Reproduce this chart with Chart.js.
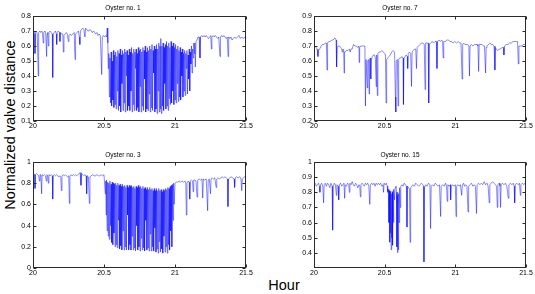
<!DOCTYPE html>
<html><head><meta charset="utf-8">
<script src="https://cdn.jsdelivr.net/npm/chart.js@4.4.0/dist/chart.umd.min.js"></script>
<style>
html,body{margin:0;padding:0;background:#fff;width:535px;height:294px;overflow:hidden;position:relative;font-family:"Liberation Sans",Arial,sans-serif;}
canvas{position:absolute;}
.lbl{position:absolute;font-size:14.5px;color:#000;white-space:nowrap;line-height:1;}
#ylab{left:10px;top:125px;transform:translate(-50%,-50%) rotate(-90deg);}
#xlab{left:284px;top:285px;transform:translate(-50%,-50%);}
</style></head><body>
<div id="ylab" class="lbl">Normalized valve distance</div>
<div id="xlab" class="lbl">Hour</div>
<script>
const xTicks = [20, 20.5, 21, 21.5];
const xTickLabels = ['20', '20.5', '21', '21.5'];
const titles = ['Oyster no. 1', 'Oyster no. 7', 'Oyster no. 3', 'Oyster no. 15'];

const yTicks1 = [0.1, 0.2, 0.3, 0.4, 0.5, 0.6, 0.7, 0.8];
const yLabels1 = ['0.1', '0.2', '0.3', '0.4', '0.5', '0.6', '0.7', '0.8'];
const yTicks7 = [0.2, 0.3, 0.4, 0.5, 0.6, 0.7, 0.8, 0.9];
const yLabels7 = ['0.2', '0.3', '0.4', '0.5', '0.6', '0.7', '0.8', '0.9'];
const yTicks3 = [0, 0.2, 0.4, 0.6, 0.8, 1];
const yLabels3 = ['0', '0.2', '0.4', '0.6', '0.8', '1'];
const yTicks15 = [0.4, 0.5, 0.6, 0.7, 0.8, 0.9, 1];
const yLabels15 = ['0.4', '0.5', '0.6', '0.7', '0.8', '0.9', '1'];

// [hour, normalized valve distance]
const oyster1 = [
[20.000,0.69],[20.006,0.70],[20.012,0.68],[20.014,0.55],[20.017,0.69],[20.024,0.70],[20.030,0.68],[20.037,0.40],[20.040,0.69],
[20.048,0.70],[20.055,0.69],[20.062,0.70],[20.068,0.68],[20.072,0.62],[20.076,0.69],[20.084,0.70],[20.090,0.68],[20.096,0.53],
[20.099,0.68],[20.104,0.69],[20.108,0.60],[20.112,0.69],[20.120,0.70],[20.128,0.69],[20.136,0.68],[20.139,0.39],[20.142,0.68],
[20.150,0.69],[20.158,0.70],[20.164,0.68],[20.167,0.61],[20.170,0.69],[20.178,0.70],[20.186,0.69],[20.190,0.63],[20.194,0.69],
[20.202,0.68],[20.210,0.68],[20.214,0.56],[20.218,0.67],[20.226,0.68],[20.234,0.69],[20.242,0.68],[20.249,0.63],[20.253,0.67],
[20.262,0.68],[20.270,0.67],[20.280,0.68],[20.290,0.69],[20.296,0.51],[20.300,0.68],[20.310,0.69],[20.320,0.70],[20.326,0.66],
[20.330,0.61],[20.334,0.70],[20.342,0.71],[20.350,0.72],[20.358,0.71],[20.366,0.66],[20.370,0.72],[20.378,0.71],[20.386,0.70],
[20.394,0.70],[20.402,0.71],[20.410,0.70],[20.418,0.69],[20.426,0.70],[20.434,0.69],[20.442,0.68],[20.450,0.69],[20.458,0.67],
[20.466,0.68],[20.474,0.67],[20.484,0.41],[20.488,0.66],[20.496,0.67],[20.504,0.66],[20.512,0.67],[20.518,0.66],[20.523,0.72],
[20.527,0.62],[20.530,0.45],
[20.534,0.55],[20.538,0.26],[20.542,0.52],[20.546,0.22],[20.550,0.56],[20.554,0.20],[20.558,0.50],[20.562,0.24],
[20.566,0.57],[20.570,0.19],[20.574,0.54],[20.578,0.21],[20.582,0.56],[20.586,0.18],[20.590,0.53],[20.594,0.30],
[20.598,0.57],[20.602,0.17],[20.606,0.55],[20.610,0.20],[20.614,0.58],[20.618,0.16],[20.622,0.54],[20.626,0.35],
[20.630,0.57],[20.634,0.17],[20.638,0.55],[20.642,0.22],[20.646,0.58],[20.650,0.16],[20.654,0.56],[20.658,0.40],
[20.662,0.57],[20.666,0.17],[20.670,0.54],[20.674,0.20],[20.678,0.58],[20.682,0.17],[20.686,0.56],[20.690,0.30],
[20.694,0.59],[20.698,0.16],[20.702,0.55],[20.706,0.21],[20.710,0.58],[20.714,0.17],[20.718,0.56],[20.722,0.45],
[20.726,0.58],[20.730,0.17],[20.734,0.55],[20.738,0.19],[20.742,0.59],[20.746,0.16],[20.750,0.57],[20.754,0.33],
[20.758,0.58],[20.762,0.16],[20.766,0.56],[20.770,0.20],[20.774,0.59],[20.778,0.17],[20.782,0.57],[20.786,0.38],
[20.790,0.60],[20.794,0.16],[20.798,0.56],[20.802,0.18],[20.806,0.59],[20.810,0.17],[20.814,0.57],[20.818,0.28],
[20.822,0.60],[20.826,0.16],[20.830,0.58],[20.834,0.19],[20.838,0.61],[20.842,0.17],[20.846,0.57],[20.850,0.42],
[20.854,0.60],[20.858,0.16],[20.862,0.58],[20.866,0.18],[20.870,0.61],[20.874,0.15],[20.878,0.58],[20.882,0.30],
[20.886,0.62],[20.890,0.16],[20.894,0.60],[20.897,0.18],[20.900,0.65],[20.904,0.15],[20.908,0.60],[20.912,0.20],
[20.916,0.62],[20.920,0.17],[20.924,0.59],[20.928,0.35],[20.932,0.61],[20.936,0.18],[20.940,0.63],[20.944,0.20],
[20.948,0.60],[20.952,0.17],[20.956,0.62],[20.960,0.25],[20.964,0.59],[20.968,0.21],[20.972,0.63],[20.976,0.22],
[20.980,0.60],[20.984,0.30],[20.988,0.62],[20.992,0.21],[20.996,0.59],[21.000,0.24],[21.004,0.61],[21.008,0.22],
[21.012,0.58],[21.016,0.35],[21.020,0.60],[21.024,0.23],[21.028,0.57],[21.032,0.26],[21.036,0.59],[21.040,0.24],
[21.044,0.56],[21.048,0.40],[21.052,0.58],[21.056,0.26],[21.060,0.55],[21.064,0.30],[21.068,0.57],[21.072,0.27],
[21.076,0.55],[21.080,0.45],[21.084,0.57],[21.088,0.28],[21.092,0.54],[21.096,0.38],[21.100,0.58],[21.104,0.30],
[21.108,0.56],[21.112,0.48],[21.116,0.60],[21.120,0.42],[21.124,0.58],[21.128,0.52],[21.132,0.62],[21.136,0.55],
[21.140,0.62],[21.143,0.46],[21.148,0.63],[21.155,0.64],[21.162,0.66],[21.170,0.66],[21.176,0.52],[21.180,0.66],
[21.188,0.67],[21.196,0.66],[21.204,0.67],[21.212,0.66],[21.220,0.67],[21.228,0.66],[21.236,0.65],[21.244,0.66],
[21.252,0.67],[21.256,0.58],[21.260,0.66],[21.268,0.67],[21.276,0.66],[21.284,0.67],[21.292,0.66],[21.300,0.65],
[21.308,0.66],[21.317,0.53],[21.320,0.66],[21.328,0.67],[21.336,0.66],[21.344,0.67],[21.352,0.66],[21.360,0.65],
[21.368,0.66],[21.374,0.53],[21.378,0.66],[21.386,0.65],[21.394,0.66],[21.402,0.64],[21.410,0.65],[21.420,0.66],
[21.430,0.65],[21.440,0.66],[21.450,0.67],[21.460,0.65],[21.470,0.66],[21.480,0.65],[21.490,0.66],[21.500,0.65]
];

const oyster7 = [
[20.000,0.69],[20.008,0.70],[20.015,0.69],[20.022,0.68],[20.028,0.63],[20.032,0.67],[20.040,0.68],[20.050,0.70],
[20.060,0.71],[20.070,0.71],[20.080,0.72],[20.088,0.72],[20.092,0.54],[20.096,0.72],[20.105,0.73],[20.115,0.73],
[20.125,0.74],[20.135,0.74],[20.145,0.75],[20.152,0.75],[20.156,0.74],[20.160,0.56],[20.164,0.69],[20.172,0.70],
[20.180,0.70],[20.188,0.69],[20.196,0.68],[20.200,0.66],[20.205,0.68],[20.210,0.67],[20.213,0.52],[20.216,0.66],
[20.222,0.66],[20.230,0.67],[20.240,0.67],[20.250,0.68],[20.256,0.66],[20.262,0.68],[20.270,0.68],[20.280,0.71],
[20.290,0.70],[20.300,0.70],[20.310,0.69],[20.318,0.70],[20.320,0.59],[20.323,0.69],[20.332,0.70],[20.342,0.70],
[20.352,0.70],[20.360,0.70],[20.364,0.30],[20.368,0.61],[20.374,0.61],[20.377,0.42],[20.380,0.60],[20.386,0.61],
[20.390,0.38],[20.393,0.60],[20.398,0.62],[20.402,0.48],[20.405,0.60],[20.412,0.63],[20.420,0.64],[20.428,0.64],
[20.434,0.62],[20.440,0.43],[20.444,0.64],[20.448,0.37],[20.452,0.65],[20.460,0.66],[20.470,0.66],[20.480,0.67],
[20.490,0.66],[20.500,0.65],[20.506,0.64],[20.510,0.32],[20.514,0.61],[20.522,0.62],[20.530,0.63],[20.540,0.64],
[20.550,0.66],[20.560,0.67],[20.570,0.66],[20.576,0.36],[20.579,0.26],[20.582,0.60],[20.590,0.61],[20.595,0.30],
[20.599,0.61],[20.606,0.62],[20.614,0.62],[20.622,0.63],[20.630,0.62],[20.633,0.31],[20.637,0.62],[20.645,0.63],
[20.652,0.64],[20.660,0.63],[20.663,0.55],[20.667,0.65],[20.675,0.66],[20.684,0.65],[20.690,0.43],[20.694,0.66],
[20.702,0.67],[20.712,0.68],[20.720,0.68],[20.725,0.55],[20.730,0.69],[20.740,0.70],[20.750,0.71],[20.760,0.72],
[20.770,0.72],[20.780,0.71],[20.786,0.41],[20.790,0.72],[20.800,0.72],[20.808,0.72],[20.812,0.32],[20.816,0.71],
[20.826,0.72],[20.836,0.73],[20.846,0.72],[20.856,0.73],[20.866,0.73],[20.870,0.55],[20.874,0.73],[20.884,0.74],
[20.894,0.73],[20.904,0.74],[20.910,0.73],[20.914,0.62],[20.918,0.73],[20.928,0.73],[20.940,0.74],[20.952,0.74],
[20.962,0.73],[20.972,0.73],[20.984,0.72],[20.996,0.73],[21.008,0.72],[21.020,0.73],[21.032,0.72],[21.040,0.72],
[21.048,0.48],[21.052,0.71],[21.060,0.72],[21.068,0.71],[21.078,0.71],[21.088,0.71],[21.096,0.70],[21.100,0.50],
[21.104,0.70],[21.114,0.71],[21.124,0.70],[21.134,0.71],[21.144,0.71],[21.154,0.71],[21.160,0.70],[21.165,0.53],
[21.169,0.71],[21.180,0.71],[21.190,0.71],[21.200,0.70],[21.206,0.70],[21.214,0.52],[21.218,0.69],[21.224,0.70],
[21.234,0.71],[21.245,0.72],[21.255,0.71],[21.265,0.71],[21.274,0.70],[21.280,0.54],[21.284,0.69],[21.290,0.68],
[21.300,0.67],[21.310,0.68],[21.320,0.68],[21.330,0.69],[21.340,0.69],[21.344,0.64],[21.348,0.70],[21.360,0.71],
[21.372,0.71],[21.384,0.72],[21.396,0.72],[21.408,0.73],[21.420,0.73],[21.432,0.73],[21.440,0.73],[21.446,0.58],
[21.450,0.70],[21.460,0.70],[21.470,0.70],[21.480,0.71],[21.490,0.71],[21.500,0.72]
];

const oyster3 = [
[20.000,0.88],[20.006,0.89],[20.012,0.88],[20.014,0.75],[20.017,0.88],[20.025,0.89],[20.033,0.88],[20.040,0.87],
[20.045,0.82],[20.049,0.88],[20.055,0.88],[20.061,0.70],[20.064,0.88],[20.072,0.87],[20.080,0.88],[20.088,0.87],
[20.094,0.82],[20.098,0.88],[20.104,0.87],[20.108,0.80],[20.112,0.88],[20.120,0.87],[20.128,0.88],[20.136,0.87],
[20.139,0.65],[20.142,0.87],[20.150,0.88],[20.158,0.87],[20.166,0.88],[20.174,0.87],[20.182,0.86],[20.190,0.87],
[20.196,0.85],[20.200,0.73],[20.204,0.87],[20.212,0.88],[20.220,0.87],[20.228,0.88],[20.236,0.87],[20.244,0.86],
[20.252,0.87],[20.256,0.61],[20.260,0.87],[20.268,0.88],[20.276,0.87],[20.284,0.88],[20.292,0.87],[20.300,0.88],
[20.308,0.87],[20.316,0.88],[20.324,0.89],[20.332,0.90],[20.338,0.78],[20.342,0.89],[20.350,0.88],[20.358,0.87],
[20.366,0.88],[20.374,0.87],[20.378,0.70],[20.382,0.87],[20.390,0.86],[20.397,0.61],[20.401,0.86],[20.410,0.87],
[20.420,0.88],[20.430,0.87],[20.440,0.87],[20.450,0.88],[20.460,0.87],[20.470,0.87],[20.480,0.88],[20.490,0.87],
[20.500,0.88],[20.506,0.88],[20.509,0.70],[20.512,0.82],[20.515,0.50],[20.518,0.83],[20.522,0.35],
[20.526,0.81],[20.530,0.30],[20.534,0.80],[20.538,0.27],[20.542,0.82],[20.546,0.40],[20.550,0.79],[20.554,0.24],
[20.558,0.81],[20.562,0.22],[20.566,0.80],[20.570,0.33],[20.574,0.79],[20.578,0.20],[20.582,0.80],[20.586,0.22],
[20.590,0.78],[20.594,0.19],[20.598,0.80],[20.602,0.45],[20.606,0.78],[20.610,0.18],[20.614,0.79],[20.618,0.21],
[20.622,0.77],[20.626,0.17],[20.630,0.79],[20.634,0.35],[20.638,0.77],[20.642,0.17],[20.646,0.78],[20.650,0.20],
[20.654,0.76],[20.658,0.17],[20.662,0.78],[20.666,0.50],[20.670,0.76],[20.674,0.17],[20.678,0.78],[20.682,0.22],
[20.686,0.77],[20.690,0.17],[20.694,0.78],[20.698,0.30],[20.702,0.76],[20.706,0.17],[20.710,0.77],[20.714,0.19],
[20.718,0.75],[20.722,0.16],[20.726,0.77],[20.730,0.40],[20.734,0.76],[20.738,0.17],[20.742,0.78],[20.746,0.20],
[20.750,0.76],[20.754,0.16],[20.758,0.77],[20.762,0.28],[20.766,0.75],[20.770,0.17],[20.774,0.77],[20.778,0.19],
[20.782,0.75],[20.786,0.16],[20.790,0.76],[20.794,0.45],[20.798,0.74],[20.802,0.17],[20.806,0.76],[20.810,0.19],
[20.814,0.74],[20.818,0.16],[20.822,0.76],[20.826,0.32],[20.830,0.74],[20.834,0.16],[20.838,0.75],[20.842,0.20],
[20.846,0.73],[20.850,0.16],[20.854,0.75],[20.858,0.38],[20.862,0.73],[20.866,0.15],[20.870,0.75],[20.874,0.18],
[20.878,0.73],[20.882,0.14],[20.886,0.75],[20.890,0.25],[20.894,0.73],[20.898,0.15],[20.902,0.74],[20.906,0.18],
[20.910,0.72],[20.914,0.14],[20.918,0.74],[20.922,0.30],[20.926,0.73],[20.930,0.15],[20.934,0.75],[20.938,0.20],
[20.942,0.74],[20.946,0.14],[20.950,0.76],[20.954,0.22],[20.958,0.75],[20.962,0.17],[20.966,0.77],[20.970,0.35],
[20.974,0.78],[20.978,0.20],[20.982,0.79],[20.986,0.45],[20.990,0.80],[20.994,0.60],[21.000,0.80],
[21.010,0.81],[21.020,0.81],[21.030,0.82],[21.040,0.81],[21.050,0.82],[21.060,0.81],[21.070,0.82],[21.076,0.80],
[21.080,0.50],[21.084,0.80],[21.092,0.82],[21.100,0.81],[21.104,0.65],[21.108,0.82],[21.116,0.83],[21.124,0.82],
[21.128,0.72],[21.132,0.83],[21.140,0.83],[21.148,0.82],[21.155,0.67],[21.160,0.83],[21.170,0.84],[21.180,0.83],
[21.190,0.84],[21.195,0.66],[21.200,0.84],[21.210,0.83],[21.220,0.84],[21.230,0.54],[21.234,0.83],[21.242,0.84],
[21.250,0.70],[21.254,0.84],[21.262,0.85],[21.270,0.84],[21.280,0.85],[21.290,0.76],[21.294,0.84],[21.302,0.85],
[21.312,0.84],[21.322,0.85],[21.332,0.86],[21.342,0.85],[21.352,0.86],[21.362,0.85],[21.370,0.84],[21.373,0.58],
[21.377,0.84],[21.386,0.85],[21.396,0.86],[21.406,0.85],[21.416,0.84],[21.420,0.76],[21.424,0.85],[21.434,0.86],
[21.444,0.85],[21.454,0.86],[21.464,0.85],[21.470,0.73],[21.474,0.84],[21.482,0.85],[21.490,0.86],[21.500,0.85]
];

const oyster15 = [
[20.000,0.85],[20.008,0.86],[20.016,0.84],[20.024,0.85],[20.032,0.86],[20.038,0.84],[20.042,0.80],[20.046,0.85],
[20.054,0.86],[20.062,0.84],[20.068,0.73],[20.072,0.85],[20.080,0.86],[20.088,0.84],[20.096,0.86],[20.104,0.85],
[20.112,0.83],[20.120,0.86],[20.128,0.84],[20.132,0.55],[20.136,0.84],[20.144,0.86],[20.152,0.85],[20.158,0.78],
[20.162,0.85],[20.170,0.84],[20.175,0.75],[20.179,0.85],[20.188,0.86],[20.196,0.84],[20.204,0.85],[20.212,0.86],
[20.217,0.76],[20.221,0.85],[20.230,0.84],[20.238,0.86],[20.246,0.85],[20.250,0.80],[20.254,0.86],[20.262,0.85],
[20.270,0.87],[20.278,0.85],[20.286,0.84],[20.294,0.86],[20.302,0.85],[20.310,0.83],[20.318,0.85],[20.324,0.84],
[20.328,0.77],[20.332,0.85],[20.340,0.86],[20.348,0.85],[20.356,0.84],[20.364,0.86],[20.372,0.85],[20.380,0.86],
[20.388,0.84],[20.395,0.72],[20.399,0.85],[20.408,0.86],[20.416,0.85],[20.424,0.86],[20.432,0.84],[20.440,0.86],
[20.448,0.85],[20.456,0.86],[20.464,0.85],[20.472,0.86],[20.480,0.84],[20.488,0.85],[20.492,0.80],[20.496,0.86],
[20.504,0.85],[20.512,0.86],[20.518,0.84],[20.522,0.80],[20.526,0.82],[20.530,0.60],[20.533,0.81],[20.536,0.47],
[20.539,0.80],[20.541,0.53],[20.544,0.81],[20.546,0.42],[20.549,0.79],[20.551,0.50],[20.554,0.80],[20.556,0.45],
[20.559,0.81],[20.562,0.60],[20.566,0.82],[20.570,0.75],[20.574,0.83],[20.580,0.84],[20.584,0.80],[20.586,0.44],
[20.589,0.78],[20.591,0.40],[20.594,0.80],[20.596,0.42],[20.599,0.79],[20.602,0.60],[20.606,0.83],[20.610,0.70],
[20.614,0.84],[20.622,0.85],[20.630,0.84],[20.638,0.86],[20.646,0.85],[20.654,0.84],[20.658,0.57],[20.662,0.84],
[20.670,0.83],[20.676,0.82],[20.680,0.47],[20.684,0.83],[20.692,0.84],[20.700,0.85],[20.710,0.84],[20.720,0.86],
[20.730,0.85],[20.740,0.84],[20.750,0.85],[20.760,0.86],[20.770,0.85],[20.775,0.84],[20.778,0.34],[20.782,0.83],
[20.790,0.85],[20.800,0.84],[20.810,0.86],[20.820,0.85],[20.825,0.56],[20.829,0.84],[20.838,0.85],[20.848,0.84],
[20.858,0.86],[20.868,0.85],[20.878,0.84],[20.888,0.85],[20.896,0.64],[20.900,0.84],[20.910,0.85],[20.920,0.84],
[20.930,0.86],[20.938,0.84],[20.943,0.74],[20.947,0.85],[20.956,0.84],[20.964,0.85],[20.967,0.75],[20.971,0.84],
[20.980,0.85],[20.990,0.84],[21.000,0.85],[21.005,0.64],[21.009,0.84],[21.018,0.85],[21.028,0.84],[21.036,0.85],
[21.045,0.78],[21.049,0.84],[21.058,0.86],[21.066,0.84],[21.074,0.85],[21.082,0.84],[21.090,0.67],[21.094,0.84],
[21.104,0.85],[21.114,0.86],[21.124,0.84],[21.134,0.85],[21.142,0.84],[21.150,0.66],[21.154,0.85],[21.164,0.86],
[21.174,0.85],[21.184,0.86],[21.194,0.85],[21.204,0.87],[21.214,0.85],[21.224,0.86],[21.232,0.84],[21.240,0.73],
[21.244,0.85],[21.254,0.86],[21.264,0.87],[21.274,0.86],[21.284,0.85],[21.292,0.84],[21.297,0.70],[21.301,0.85],
[21.310,0.86],[21.316,0.84],[21.320,0.70],[21.324,0.85],[21.334,0.86],[21.344,0.85],[21.354,0.86],[21.364,0.84],
[21.375,0.76],[21.379,0.85],[21.390,0.86],[21.400,0.85],[21.410,0.86],[21.416,0.84],[21.420,0.73],[21.424,0.85],
[21.434,0.86],[21.444,0.85],[21.454,0.86],[21.460,0.78],[21.464,0.85],[21.474,0.86],[21.484,0.85],[21.492,0.86],
[21.500,0.85]
];

const FONT = '"Liberation Sans", Arial, Helvetica, sans-serif';
Chart.defaults.font.family = FONT;

const boxPlugin = {
  id: 'matlabBox',
  afterDatasetsDraw(chart) {
    const { ctx, chartArea: a, scales } = chart;
    const L = Math.round(a.left) + 0.5, R = Math.round(a.right) - 0.5;
    const T = Math.round(a.top) + 0.5, B = Math.round(a.bottom) - 0.5;
    ctx.save();
    ctx.strokeStyle = '#2a2a2a';
    ctx.lineWidth = 1;
    ctx.strokeRect(L, T, R - L, B - T);
    const tl = 3;
    ctx.beginPath();
    scales.x.ticks.forEach(t => {
      const x = Math.round(scales.x.getPixelForValue(t.value)) + 0.5;
      ctx.moveTo(x, B); ctx.lineTo(x, B - tl);
      ctx.moveTo(x, T); ctx.lineTo(x, T + tl);
    });
    scales.y.ticks.forEach(t => {
      const y = Math.round(scales.y.getPixelForValue(t.value)) + 0.5;
      ctx.moveTo(L, y); ctx.lineTo(L + tl, y);
      ctx.moveTo(R, y); ctx.lineTo(R - tl, y);
    });
    ctx.stroke();
    ctx.restore();
  }
};

function makePlot(data, title, box, yMin, yMax, yTicks, yLabels, titleTop) {
  const yw = Math.min(40, box.l);
  const padR = 14, titleH = 16, xh = 20;
  const cv = document.createElement('canvas');
  const cl = box.l - yw, ct = box.t - titleH;
  const w = box.r - cl + padR, h = box.b - ct + xh;
  cv.width = w; cv.height = h;
  cv.style.left = cl + 'px'; cv.style.top = ct + 'px';
  cv.style.width = w + 'px'; cv.style.height = h + 'px';
  document.body.appendChild(cv);
  new Chart(cv, {
    type: 'line',
    data: { datasets: [{
      data: data.map(p => ({ x: p[0], y: p[1] })),
      borderColor: 'rgba(0,0,255,0.8)', borderWidth: 0.6,
      pointRadius: 0, tension: 0, fill: false
    }] },
    options: {
      responsive: false, animation: false, events: [],
      devicePixelRatio: 1,
      layout: { padding: { left: 0, right: padR, top: 0, bottom: 0 } },
      plugins: {
        legend: { display: false }, tooltip: { enabled: false },
        title: { display: true, text: title, color: '#000',
          font: { family: FONT, size: 6.5, weight: 'normal', lineHeight: '8px' },
          padding: { top: titleTop, bottom: titleH - 8 - titleTop } }
      },
      scales: {
        x: {
          type: 'linear', min: 20, max: 21.5,
          afterBuildTicks: s => { s.ticks = xTicks.map(v => ({ value: v })); },
          afterFit: s => { s.height = xh; },
          grid: { display: false, drawTicks: false }, border: { display: false },
          ticks: { padding: 1, color: '#000', font: { size: 7 }, maxRotation: 0, autoSkip: false,
            callback: (v, i) => xTickLabels[i] }
        },
        y: {
          type: 'linear', min: yMin, max: yMax,
          afterBuildTicks: s => { s.ticks = yTicks.map(v => ({ value: v })); },
          afterFit: s => { s.width = yw; },
          grid: { display: false, drawTicks: false }, border: { display: false },
          ticks: { padding: 2, color: '#000', font: { size: 7 }, autoSkip: false,
            callback: (v, i) => yLabels[i] }
        }
      }
    },
    plugins: [boxPlugin]
  });
}

makePlot(oyster1, titles[0], { l: 33, r: 246, t: 16, b: 121 }, 0.1, 0.8, yTicks1, yLabels1, 4);
makePlot(oyster7, titles[1], { l: 314, r: 526, t: 16, b: 121 }, 0.2, 0.9, yTicks7, yLabels7, 4);
makePlot(oyster3, titles[2], { l: 33, r: 246, t: 162, b: 268 }, 0, 1, yTicks3, yLabels3, 5.5);
makePlot(oyster15, titles[3], { l: 314, r: 526, t: 162, b: 268 }, 0.3, 1, yTicks15, yLabels15, 5.5);
</script>
</body></html>
